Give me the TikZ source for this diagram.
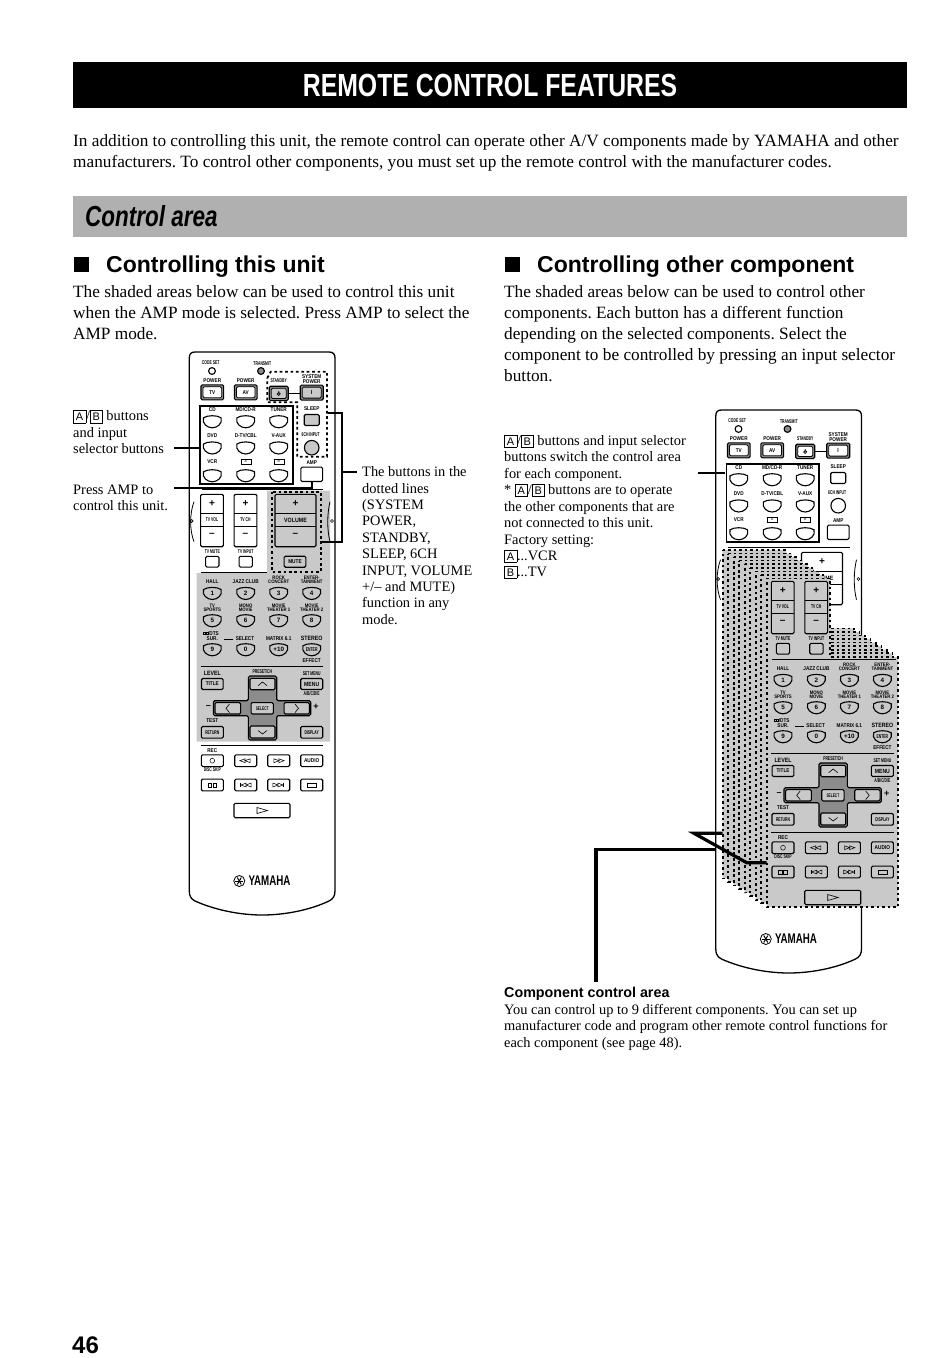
\documentclass[tikz,border=0pt]{standalone}
\usepackage{fontspec}
\setmainfont{Liberation Serif}
\setsansfont{Liberation Sans}
\newfontfamily\titlef[FakeStretch=0.775]{Liberation Sans}
\newfontfamily\midf[FakeStretch=0.85]{Liberation Sans}
\newfontfamily\narrowf[FakeStretch=0.62]{Liberation Sans}
\AtBeginDocument{\frenchspacing}
\definecolor{panel}{gray}{0.79}
\definecolor{band}{gray}{0.69}
\definecolor{crossc}{gray}{0.55}
\newcount\nc
\newcommand\fs[1]{\fontsize{#1}{#1}\selectfont}
\newcommand\ka[1]{{\fboxsep=0.5pt\fboxrule=0.4pt\fbox{\sffamily\fs{11}\rule[-1.5pt]{0pt}{11pt}\,#1\,}}}
\tikzset{
 lab/.style={inner sep=0pt,align=center,font=\midf\bfseries\fs{5.5}},
 labn/.style={inner sep=0pt,align=center,font=\narrowf\bfseries\fs{5.5}},
 txt/.style={inner sep=0pt,anchor=base west,font=\fs{17.25}},
 note/.style={inner sep=0pt,anchor=base west,font=\fs{14.4}},
 btn/.style={draw,line width=1.1pt,rounded corners=1.3pt,inner sep=0pt,align=center,font=\midf\bfseries\fs{5.5}},
 hifill/.style={fill=white},
 lowfill/.style={fill=white},
 leader/.style={line width=1.7pt},
 thickleader/.style={line width=3.2pt,miter limit=10},
 dotreg/.style={line width=1.8pt,dash pattern=on 2.7pt off 2.7pt},
 rule/.style={line width=1pt},
}
% text label
\newcommand\tl[4][lab]{\global\advance\nc by 1 \node[#1] (l\the\nc) at (#2,#3) {#4};}
% button: [style] x y w h text
\newcommand\bt[6][]{\global\advance\nc by 1 \node[btn,minimum width=#4pt,minimum height=#5pt,#1] (b\the\nc) at (#2,#3) {#6};}
% double-border button
\newcommand\dbt[6][]{\global\advance\nc by 1 \node[btn,fill=crossc,minimum width=#4pt,minimum height=#5pt] (b\the\nc) at (#2,#3) {};
 \global\advance\nc by 1 \node[btn,fill=white,line width=0.8pt,minimum width=#4pt-4pt,minimum height=#5pt-4pt,#1] (b\the\nc) at (#2,#3) {#6};}
% U-shaped input key
\newcommand\ukey[3][lowfill]{\draw[line width=1.1pt,#1] ({#2-8.8},{#3-3.2}) .. controls ({#2-5},{#3-6}) and ({#2+5},{#3-6}) .. ({#2+8.8},{#3-3.2}) .. controls ({#2+10.6},{#3+2.5}) and ({#2+5},{#3+6.8}) .. (#2,{#3+6.8}) .. controls ({#2-5},{#3+6.8}) and ({#2-10.6},{#3+2.5}) .. ({#2-8.8},{#3-3.2}) -- cycle;}
% numbered key
\newcommand\nkey[3]{\ukey{#1}{#2}\tl[lab,font=\sffamily\bfseries\fs{6.3}]{#1}{#2+0.4}{#3}}
\newcommand\tri[3]{\draw[line width=0.55pt] ({#1-2.6*#3},{#2-1.9}) -- ({#1+2.6*#3},#2) -- ({#1-2.6*#3},{#2+1.9}) -- cycle;}
\newcommand\vbar[2]{\draw[line width=0.8pt] (#1,{#2-2}) -- (#1,{#2+2});}

\newcommand\body{%
\draw[line width=1.3pt,fill=white] (189.3,891) -- (189.3,358) .. controls (189.3,354) and (191,352) .. (195,352) -- (329,352) .. controls (333,352) and (335,354) .. (335,358) -- (335,891) .. controls (335,896) and (333,899) .. (329,901) .. controls (310,910) and (285,915) .. (262.2,915) .. controls (240,915) and (215,910) .. (195,901) .. controls (191,899) and (189.3,896) .. (189.3,891) -- cycle;}

\newcommand\topPart{%
\tl[labn]{210.7}{362.7}{CODE SET}
\draw[line width=1.1pt] (212,371) circle (3.4);
\tl[labn]{262.3}{363.3}{TRANSMIT}
\draw[line width=1.1pt,fill=crossc] (261,371) circle (3.4);
\tl{212.3}{381}{POWER}
\tl{245.7}{381}{POWER}
\tl[labn]{278.7}{381}{STANDBY}
\tl[lab]{311.7}{379}{SYSTEM\\[-0.6pt]POWER}
\draw[line width=0.6pt] (288,393) -- (300,393);
\dbt{212.3}{392.3}{22.7}{15}{TV}
\dbt{245.7}{392.3}{22.7}{15}{AV}
\dbt[hifill]{278.7}{393.4}{19}{14.3}{}
\draw[line width=0.7pt] (278.7,393.9) circle (1.6) (278.7,391.2) -- (278.7,393.6);
\dbt[hifill]{311.7}{392.6}{23}{15}{\fs{6}I}
\draw[line width=1.9pt] (200,406) rectangle (292.7,484.3);
\tl{212.3}{410}{CD}\tl{245.7}{410}{MD/CD-R}\tl{278.7}{410}{TUNER}
\tl{212.3}{435.7}{DVD}\tl{245.7}{435.7}{D-TV/CBL}\tl{278.7}{435.7}{V-AUX}
\tl{212.3}{461.7}{VCR}
\bt[line width=0.4pt,rounded corners=0pt,font=\sffamily\fs{3.5}]{245.7}{461.7}{10}{4.4}{A}
\bt[line width=0.4pt,rounded corners=0pt,font=\sffamily\fs{3.5}]{278.7}{461.7}{10}{4.4}{B}
\ukey{212.3}{421}\ukey{245.7}{421}\ukey{278.7}{421}
\ukey{212.3}{447.2}\ukey{245.7}{447.2}\ukey{278.7}{447.2}
\ukey{212.3}{475}\ukey{245.7}{475}\ukey{278.7}{475}
\tl{311.7}{409}{SLEEP}
\bt[hifill]{311.7}{420}{15}{11}{}
\tl[labn]{310.7}{435}{6CH INPUT}
\draw[line width=1.1pt,hifill] (311.7,447.7) circle (7.3);
\tl{311.7}{462.3}{AMP}
\bt{311.7}{474.3}{21.7}{14.3}{}
\draw[rule] (201.7,489.3) -- (323,489.3);
\draw[line width=0.8pt] (194,501.7) .. controls (189.5,514) and (189.5,530) .. (194,541.7);
\draw[line width=0.6pt] (191.6,521) circle (1.5);
\draw[line width=0.8pt] (330,501.7) .. controls (327,514) and (327,530) .. (330,541.7);
\draw[line width=0.6pt] (332,521) circle (1.5);
\bt[hifill]{295.5}{520.5}{41}{52.4}{}
\draw[line width=1pt] (275,513.3) -- (316,513.3) (275,526.7) -- (316,526.7);
\tl[lab,font=\sffamily\bfseries\fs{10}]{295.5}{503.3}{+}
\tl[lab,font=\midf\bfseries\fs{6.2}]{295.5}{520}{VOLUME}
}
\newcommand\volLower{%
\tl[lab,font=\sffamily\bfseries\fs{10}]{295.5}{535}{--}
\bt[hifill,font=\midf\bfseries\fs{5.6}]{295}{561.7}{21.7}{11}{MUTE}
}

\newcommand\tvPart{%
\bt[lowfill]{212}{520.5}{22.7}{52.4}{}
\bt[lowfill]{245.5}{520.5}{22.7}{52.4}{}
\draw[line width=1pt] (200.7,513.3) -- (223.3,513.3) (200.7,526.7) -- (223.3,526.7);
\draw[line width=1pt] (234.2,513.3) -- (256.8,513.3) (234.2,526.7) -- (256.8,526.7);
\tl[lab,font=\sffamily\bfseries\fs{10}]{212}{503.3}{+}
\tl[lab,font=\sffamily\bfseries\fs{10}]{245.5}{503.3}{+}
\tl[labn]{212}{520}{TV VOL}
\tl[labn]{245.5}{520}{TV CH}
\tl[lab,font=\sffamily\bfseries\fs{10}]{212}{535}{--}
\tl[lab,font=\sffamily\bfseries\fs{10}]{245.5}{535}{--}
\tl[labn]{212.3}{551.7}{TV MUTE}
\tl[labn]{245.7}{551.7}{TV INPUT}
\bt[lowfill]{212.3}{561.7}{13.3}{10.7}{}
\bt[lowfill]{245.7}{561.7}{13.3}{10.7}{}
}

\newcommand\midPart{%
\tl{212.3}{581.7}{HALL}\tl{245.7}{581.7}{JAZZ CLUB}
\tl[lab,font=\midf\bfseries\fs{5}]{278.7}{580}{ROCK\\[-0.6pt]CONCERT}
\tl[lab,font=\midf\bfseries\fs{5}]{311.7}{580}{ENTER-\\[-0.6pt]TAINMENT}
\nkey{212.3}{592.7}{1}\nkey{245.7}{592.7}{2}\nkey{278.7}{592.7}{3}\nkey{311.7}{592.7}{4}
\tl[lab,font=\midf\bfseries\fs{5}]{212.3}{607.6}{TV\\[-0.6pt]SPORTS}
\tl[lab,font=\midf\bfseries\fs{5}]{245.7}{607.6}{MONO\\[-0.6pt]MOVIE}
\tl[lab,font=\midf\bfseries\fs{5}]{278.7}{607.6}{MOVIE\\[-0.6pt]THEATER 1}
\tl[lab,font=\midf\bfseries\fs{5}]{311.7}{607.6}{MOVIE\\[-0.6pt]THEATER 2}
\nkey{212.3}{620}{5}\nkey{245.7}{620}{6}\nkey{278.7}{620}{7}\nkey{311.7}{620}{8}
\draw[line width=0.45pt] (203.4,631.9) rectangle (205.4,634.7) (205.8,631.9) rectangle (207.8,634.7);
\tl{213.5}{633.3}{/DTS}
\tl{212.3}{638.5}{SUR.}
\draw[line width=1pt] (224.3,639) -- (233.3,639);
\tl{245}{638.5}{SELECT}
\tl{278.7}{638.5}{MATRIX 6.1}
\tl[lab,font=\midf\bfseries\fs{6.2}]{311.7}{638}{STEREO}
\nkey{212.3}{649}{9}\nkey{245.7}{649}{0}\nkey{278.7}{649}{+10}
\ukey{311.7}{649}
\tl[labn]{311.7}{649.4}{ENTER}
\tl{311.7}{660.3}{EFFECT}
\draw[rule] (200.7,666) -- (323,666);
\tl[lab,font=\midf\bfseries\fs{6.2}]{212.3}{673.3}{LEVEL}
\bt[lowfill]{212.3}{684}{21.7}{11}{TITLE}
\tl[labn]{262.3}{671.7}{PRESET/CH}
\tl[labn]{311.7}{673.3}{SET MENU}
\bt[lowfill,font=\midf\bfseries\fs{6}]{311.7}{684}{22}{11}{MENU}
\tl[labn]{311.7}{694}{A/B/C/D/E}
\draw[line width=1.1pt,fill=crossc,rounded corners=1.5pt] (248.3,676) -- (276.7,676) -- (276.7,700.7) -- (310.7,700.7) -- (310.7,715.7) -- (276.7,715.7) -- (276.7,740) -- (248.3,740) -- (248.3,715.7) -- (213.3,715.7) -- (213.3,700.7) -- (248.3,700.7) -- cycle;
\bt[fill=panel]{262.5}{684}{25}{11.4}{}
\bt[fill=panel]{262.5}{732}{25}{12}{}
\bt[fill=panel]{227.8}{708.3}{25.7}{11.4}{}
\bt[fill=panel]{296.7}{708.3}{25.3}{11.4}{}
\bt[fill=panel,font=\narrowf\bfseries\fs{5.2}]{262.2}{708.3}{22.3}{11.4}{SELECT}
\draw[line width=0.6pt] (258,685.7) -- (262.5,682) -- (267,685.7);
\draw[line width=0.6pt] (258,730.5) -- (262.5,734) -- (267,730.5);
\draw[line width=0.6pt] (229.5,704) -- (226,708.3) -- (229.5,712.6);
\draw[line width=0.6pt] (295,704) -- (298.5,708.3) -- (295,712.6);
\tl[lab,font=\sffamily\bfseries\fs{9}]{208.3}{707}{--}
\tl[lab,font=\sffamily\bfseries\fs{9}]{316}{707}{+}
\tl{212.3}{721}{TEST}
\bt[lowfill,font=\narrowf\bfseries\fs{5.4}]{212.3}{732.3}{22}{11.7}{RETURN}
\bt[lowfill,font=\narrowf\bfseries\fs{5.4}]{311.7}{732.3}{22}{11.7}{DISPLAY}
}

\newcommand\botPart{%
\draw[rule] (200.7,745) -- (323,745);
\tl{212.3}{751}{REC}
\bt[lowfill]{212.3}{760.7}{22}{11.7}{}
\draw[line width=0.5pt] (212.3,760.7) circle (2.4);
\bt[lowfill]{245.7}{760.7}{22}{11.7}{}
\tri{242.5}{760.7}{-1}\tri{247.5}{760.7}{-1}
\bt[lowfill]{278.7}{760.7}{22}{11.7}{}
\tri{276.5}{760.7}{1}\tri{281.5}{760.7}{1}
\bt[lowfill,font=\midf\bfseries\fs{5.6}]{311.7}{760.7}{22}{11.7}{AUDIO}
\tl[labn]{212.3}{770}{DISC SKIP}
\bt[lowfill]{212.3}{785}{22}{11.7}{}
\draw[line width=0.45pt] (208,783) rectangle (211.4,787) (213,783) rectangle (216.4,787);
\bt[lowfill]{245.7}{785}{22}{11.7}{}
\vbar{240.5}{785}\tri{243.5}{785}{-1}\tri{248.5}{785}{-1}
\bt[lowfill]{278.7}{785}{22}{11.7}{}
\tri{275.5}{785}{1}\tri{280.5}{785}{1}\vbar{283.8}{785}
\bt[lowfill]{311.7}{785}{22}{11.7}{}
\draw[line width=0.6pt] (307.2,782.8) rectangle (316.2,787.2);
\bt[lowfill]{262}{810.5}{56}{14.4}{}
\draw[line width=0.6pt] (257,807.5) -- (267.5,810.5) -- (257,813.5) -- cycle;
}

\newcommand\logo{%
\global\advance\nc by 1
\node[circle,draw,line width=0.8pt,minimum size=11pt,inner sep=0pt] (e\the\nc) at (239.3,881) {};
\foreach \a in {0,60,120} {\draw[line width=1pt] (239.3,881) ++(\a:4) -- ++(\a+180:8);}
\tl[lab,font=\titlef\bfseries\fs{14},anchor=west]{248.3}{881}{\scalebox{0.9}[1]{YAMAHA}}
}

\newcommand\layer[2]{\draw[fill=panel,line width=1.6pt,dash pattern=on 2.6pt off 2.9pt] (#1,#2) -- ({#1+63.3},#2) -- ({#1+63.3},{#2+78.4}) -- ({#1+131.3},{#2+78.4}) -- ({#1+131.3},{#2+328.4}) -- (#1,{#2+328.4}) -- cycle;}

\begin{document}
\begin{tikzpicture}[x=1pt,y=-1pt]
\useasboundingbox[fill=white] (0,0) rectangle (950,1358);
% title
\node[fill=black,text=white,minimum width=834pt,minimum height=46pt,inner sep=0pt,font=\titlef\bfseries\fs{32}] (title) at (490,85) {REMOTE CONTROL FEATURES};
\node[txt] (p1) at (73,146) {In addition to controlling this unit, the remote control can operate other A/V components made by YAMAHA and other};
\node[txt] (p2) at (73,167) {manufacturers. To control other components, you must set up the remote control with the manufacturer codes.};
\node[fill=band,minimum width=834pt,minimum height=41pt,inner sep=0pt] (bandbox) at (490,216.5) {};
\node[inner sep=0pt,anchor=base west,font=\titlef\bfseries\itshape\fs{29}] (area) at (85,226) {Control area};
% headings
\node[fill=black,minimum size=15.5pt,inner sep=0pt] (sq1) at (81.7,264.7) {};
\node[inner sep=0pt,anchor=base west,font=\sffamily\bfseries\fs{23}] (h1) at (106,272.5) {Controlling this unit};
\node[fill=black,minimum size=15.5pt,inner sep=0pt] (sq2) at (512.7,264.7) {};
\node[inner sep=0pt,anchor=base west,font=\sffamily\bfseries\fs{23}] (h2) at (537,272.5) {Controlling other component};
% left paragraph
\node[txt] (a1) at (73,297) {The shaded areas below can be used to control this unit};
\node[txt] (a2) at (73,318) {when the AMP mode is selected. Press AMP to select the};
\node[txt] (a3) at (73,339) {AMP mode.};
% right paragraph
\node[txt] (c1) at (504,297) {The shaded areas below can be used to control other};
\node[txt] (c2) at (504,318) {components. Each button has a different function};
\node[txt] (c3) at (504,339) {depending on the selected components. Select the};
\node[txt] (c4) at (504,360) {component to be controlled by pressing an input selector};
\node[txt] (c5) at (504,381) {button.};

% ===== left remote =====
\begin{scope}
\tikzset{hifill/.style={fill=panel}}
\body
\fill[panel] (267,490.7) rectangle (330,573) (196.7,573) rectangle (330,741.7);
\topPart
\volLower
\tvPart
\draw[rule] (201,572.7) -- (267,572.7);
\begin{scope}
\tikzset{lowfill/.style={fill=panel}}
\midPart
\end{scope}
\botPart
\logo
\draw[dotreg] (267.3,378) -- (270.7,371.7) -- (327,371.7) -- (327,456.7) -- (297.3,456.7) -- (297.3,402.3) -- (267.3,402.3) -- cycle;
\draw[dotreg] (271.7,491.7) rectangle (320.7,571.7);
\coordinate (d1) at (327.7,412.7);
\coordinate (d2) at (321.7,541.7);
\coordinate (dm) at (341.7,471.7);
\coordinate (cdL) at (200,448);
\coordinate (ampB) at (311.7,481.5);
\end{scope}
% left callouts
\coordinate (la) at (174,448);
\coordinate (lb) at (174,488.3);
\coordinate (rb) at (357,471.7);
\draw[leader] (la) -- (cdL);
\draw[leader] (lb) -| (ampB);
\draw[leader] (d1) -| (dm) |- (d2);
\draw[leader] (dm) -- (rb);
\node[note] (n1) at (73,420.5) {\ka{A}/\ka{B} buttons};
\node[note] (n2) at (73,437) {and input};
\node[note] (n3) at (73,453.3) {selector buttons};
\node[note] (n4) at (73,494) {Press AMP to};
\node[note] (n5) at (73,510.5) {control this unit.};
\node[note] (m1) at (362,476.5) {The buttons in the};
\node[note] (m2) at (362,493) {dotted lines};
\node[note] (m3) at (362,509.3) {(SYSTEM};
\node[note] (m4) at (362,525.8) {POWER,};
\node[note] (m5) at (362,542) {STANDBY,};
\node[note] (m6) at (362,558.5) {SLEEP, 6CH};
\node[note] (m7) at (362,575) {INPUT, VOLUME};
\node[note] (m8) at (362,591.3) {+/-- and MUTE)};
\node[note] (m9) at (362,607.8) {function in any};
\node[note] (m10) at (362,624) {mode.};

% ===== right remote =====
\begin{scope}[shift={(526.5,58)}]
\body
\topPart
\logo
\end{scope}
\layer{722.7}{550}\layer{728.2}{553.55}\layer{733.7}{557.1}\layer{739.2}{560.65}\layer{744.7}{564.2}\layer{750.2}{567.75}\layer{755.7}{571.3}\layer{761.2}{574.85}\layer{766.7}{578.4}
\begin{scope}[shift={(570.7,87)}]
\tikzset{lowfill/.style={fill=panel}}
\tvPart
\draw[rule] (201,572.7) -- (325.5,572.7);
\midPart
\botPart
\end{scope}
% right callouts
\coordinate (ra) at (698,473);
\coordinate (rc) at (725,473);
\draw[leader] (ra) -- (rc);
\node[note] (r1) at (504,445) {\ka{A}/\ka{B} buttons and input selector};
\node[note] (r2) at (504,461.5) {buttons switch the control area};
\node[note] (r3) at (504,478) {for each component.};
\node[note] (r4) at (504,494) {* \ka{A}/\ka{B} buttons are to operate};
\node[note] (r5) at (504,511) {the other components that are};
\node[note] (r6) at (504,527) {not connected to this unit.};
\node[note] (r7) at (504,544) {Factory setting:};
\node[note] (r8) at (504,560) {\ka{A}...VCR};
\node[note] (r9) at (504,576) {\ka{B}...TV};
% component leader
\coordinate (k1) at (596,982);
\coordinate (k2) at (596,849.3);
\coordinate (k3) at (716,849.3);
\coordinate (k4) at (722.7,833.3);
\coordinate (k5) at (694,833.3);
\coordinate (k6) at (746.7,862.7);
\coordinate (k7) at (766.7,862.7);
\draw[thickleader] (k1) -- (k2) -- (k3);
\draw[thickleader] (k4) -- (k5) -- (k6) -- (k7);
\node[inner sep=0pt,anchor=base west,font=\sffamily\bfseries\fs{14.3}] (k0) at (504,997) {Component control area};
\node[note] (k8) at (504,1014) {You can control up to 9 different components. You can set up};
\node[note] (k9) at (504,1030) {manufacturer code and program other remote control functions for};
\node[note] (k10) at (504,1047) {each component (see page 48).};
\node[inner sep=0pt,anchor=base west,font=\sffamily\bfseries\fs{24}] (pg) at (72,1353) {46};
\end{tikzpicture}
\end{document}
